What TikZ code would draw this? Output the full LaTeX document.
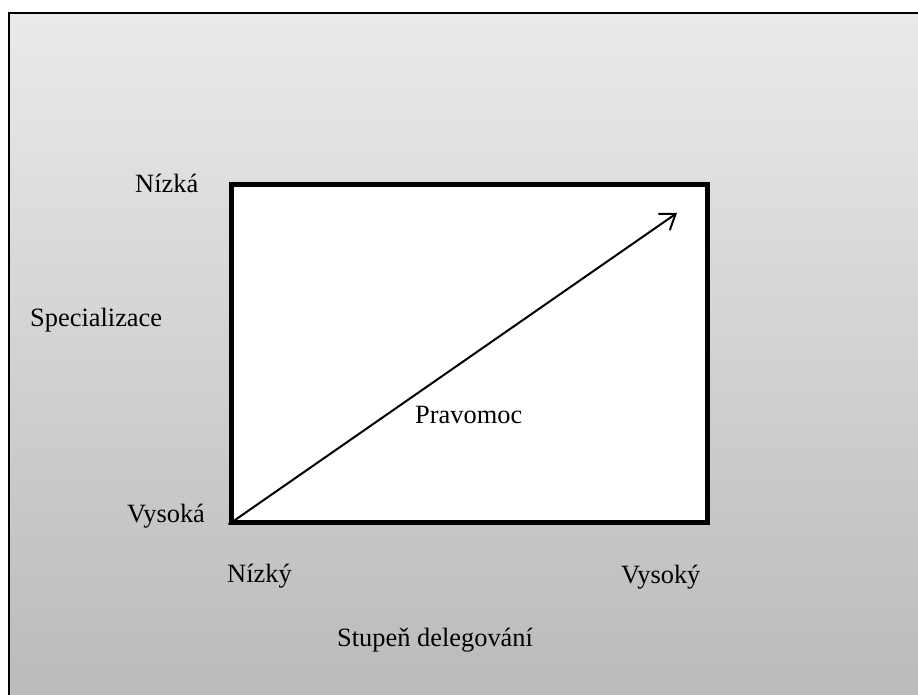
\documentclass[tikz,border=0pt]{standalone}
\usepackage{fontspec}
\setmainfont{Liberation Serif}
\usetikzlibrary{arrows.meta}
\definecolor{topgray}{RGB}{234,234,234}
\definecolor{botgray}{RGB}{186,186,186}
\begin{document}
\begin{tikzpicture}[x=1pt,y=-1pt,
  lbl/.style={font=\fontsize{26.4}{30}\selectfont, inner sep=0pt, anchor=base west},
  frame/.style={line width=2pt},
  boxstyle/.style={draw, line width=5pt, fill=white, inner sep=0pt, minimum width=476pt, minimum height=337pt},
  arr/.style={line width=2pt, -{Straight Barb[length=14pt,width=20pt,line width=2pt]}}]
\useasboundingbox (0,0) rectangle (918,695);
\begin{scope}
  \clip (0,0) rectangle (918,695);
  \shade[top color=topgray, bottom color=botgray] (9,13.5) rectangle (930,700);
  \draw[frame] (930,13.5) -- (9,13.5) -- (9,700);
\end{scope}
\node[boxstyle] (box) at (469,353.5) {};
\coordinate (tip) at (677,213);
\draw[arr] (box.south west) -- (tip);
\node[lbl] (nizka) at (135,193) {Nízká};
\node[lbl] (spec) at (30,326) {Specializace};
\node[lbl] (vysoka) at (127,522) {Vysoká};
\node[lbl] (nizky) at (227,582) {Nízký};
\node[lbl] (vysoky) at (621,583) {Vysoký};
\node[lbl] (prav) at (415,423) {Pravomoc};
\node[lbl] (stup) at (337,646) {Stupeň delegování};
\end{tikzpicture}
\end{document}
